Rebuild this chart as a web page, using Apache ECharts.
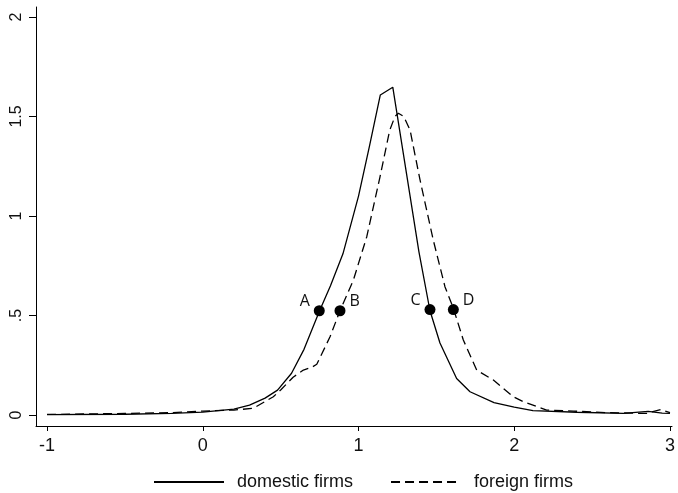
<!DOCTYPE html>
<html>
<head>
<meta charset="utf-8">
<script src="https://cdn.jsdelivr.net/npm/echarts@6/dist/echarts.min.js"></script>
<style>
  html, body { margin: 0; padding: 0; background: #fff; }
  #chartBox { width: 678px; height: 493px; }
</style>
</head>
<body>
<div id="chartBox"></div>
<script>
// density curves, [x, y]
const domestic = [
  [-1, 0.002], [-0.5, 0.004], [-0.2, 0.008], [0, 0.015], [0.2, 0.03], [0.3, 0.05],
  [0.4, 0.085], [0.48, 0.125], [0.57, 0.21], [0.65, 0.33], [0.75, 0.524], [0.82, 0.65],
  [0.9, 0.81], [1.0, 1.1], [1.07, 1.35], [1.14, 1.608], [1.22, 1.647], [1.388, 0.82],
  [1.459, 0.524], [1.523, 0.362], [1.63, 0.184], [1.716, 0.117], [1.87, 0.062],
  [2.0, 0.04], [2.12, 0.022], [2.4, 0.014], [2.7, 0.008], [2.86, 0.018], [2.95, 0.01], [3.0, 0.008]
]
const foreign = [
  [-1, 0.003], [-0.5, 0.008], [-0.2, 0.012], [0, 0.02], [0.07, 0.022], [0.2, 0.025],
  [0.325, 0.034], [0.453, 0.092], [0.5, 0.126], [0.58, 0.19], [0.646, 0.226], [0.7, 0.24],
  [0.732, 0.255], [0.817, 0.393], [0.881, 0.524], [0.967, 0.678], [1.053, 0.896],
  [1.138, 1.197], [1.2, 1.43], [1.234, 1.5], [1.256, 1.516], [1.29, 1.5], [1.331, 1.432],
  [1.395, 1.181], [1.48, 0.879], [1.555, 0.645], [1.609, 0.536], [1.673, 0.377],
  [1.759, 0.226], [1.866, 0.176], [1.994, 0.092], [2.058, 0.067], [2.208, 0.025],
  [2.38, 0.02], [2.6, 0.012], [2.85, 0.008], [2.94, 0.028], [3.0, 0.012]
]
// marked points
const pointNames = ['A', 'B', 'C', 'D']
const pointX = [0.748, 0.881, 1.459, 1.609]
const pointY = [0.524, 0.524, 0.53, 0.53]
const pointSide = ['left', 'right', 'left', 'right']

const xTicks = [-1, 0, 1, 2, 3]
const yTicks = [0, 0.5, 1, 1.5, 2]
const yTickLabels = ['0', '.5', '1', '1.5', '2']

const chart = echarts.init(document.getElementById('chartBox'), null, { renderer: 'canvas' })

const option = {
  animation: false,
  grid: { left: 36, right: 6, top: 7, bottom: 67, containLabel: false },
  xAxis: {
    type: 'value',
    min: -1.071,
    max: 3.013,
    splitLine: { show: false },
    axisLine: { show: true, onZero: false, lineStyle: { color: '#000', width: 1 } },
    axisTick: { show: true, length: 5, customValues: xTicks, lineStyle: { color: '#000' } },
    axisLabel: { margin: 11, customValues: xTicks, fontFamily: 'Liberation Sans', fontSize: 18, color: '#111' }
  },
  yAxis: {
    type: 'value',
    min: -0.055,
    max: 2.05,
    splitLine: { show: false },
    axisLine: { show: true, onZero: false, lineStyle: { color: '#000', width: 1 } },
    axisTick: { show: true, length: 7, customValues: yTicks, lineStyle: { color: '#000' } },
    axisLabel: {
      margin: 11,
      rotate: 90,
      customValues: yTicks,
      formatter: v => yTickLabels[yTicks.indexOf(v)] ?? '',
      fontFamily: 'Liberation Sans',
      fontSize: 16,
      color: '#111'
    }
  },
  legend: {
    data: ['domestic firms', 'foreign firms'],
    top: 468,
    left: 148,
    itemWidth: 70,
    itemHeight: 10,
    itemGap: 37,
    itemStyle: { opacity: 0 },
    textStyle: { fontFamily: 'Liberation Sans', fontSize: 18, color: '#111', padding: [0, 0, 0, 8] }
  },
  series: [
    {
      name: 'domestic firms',
      type: 'line',
      data: domestic,
      symbol: 'none',
      showSymbol: false,
      itemStyle: { color: '#000' },
      lineStyle: { color: '#000', width: 1.3 }
    },
    {
      name: 'foreign firms',
      type: 'line',
      data: foreign,
      symbol: 'none',
      showSymbol: false,
      itemStyle: { color: '#000' },
      lineStyle: { color: '#000', width: 1.3, type: [9, 5] }
    },
    {
      name: 'points',
      type: 'scatter',
      symbolSize: 11,
      itemStyle: { color: '#000', opacity: 1 },
      z: 5,
      data: pointNames.map((n, i) => ({
        name: n,
        value: [pointX[i], pointY[i]],
        label: {
          show: true,
          position: pointSide[i],
          distance: 4,
          offset: [0, -9],
          formatter: n,
          fontFamily: 'Open Sans',
          fontSize: 16,
          color: '#111'
        }
      }))
    }
  ]
}
chart.setOption(option)
</script>
</body>
</html>
